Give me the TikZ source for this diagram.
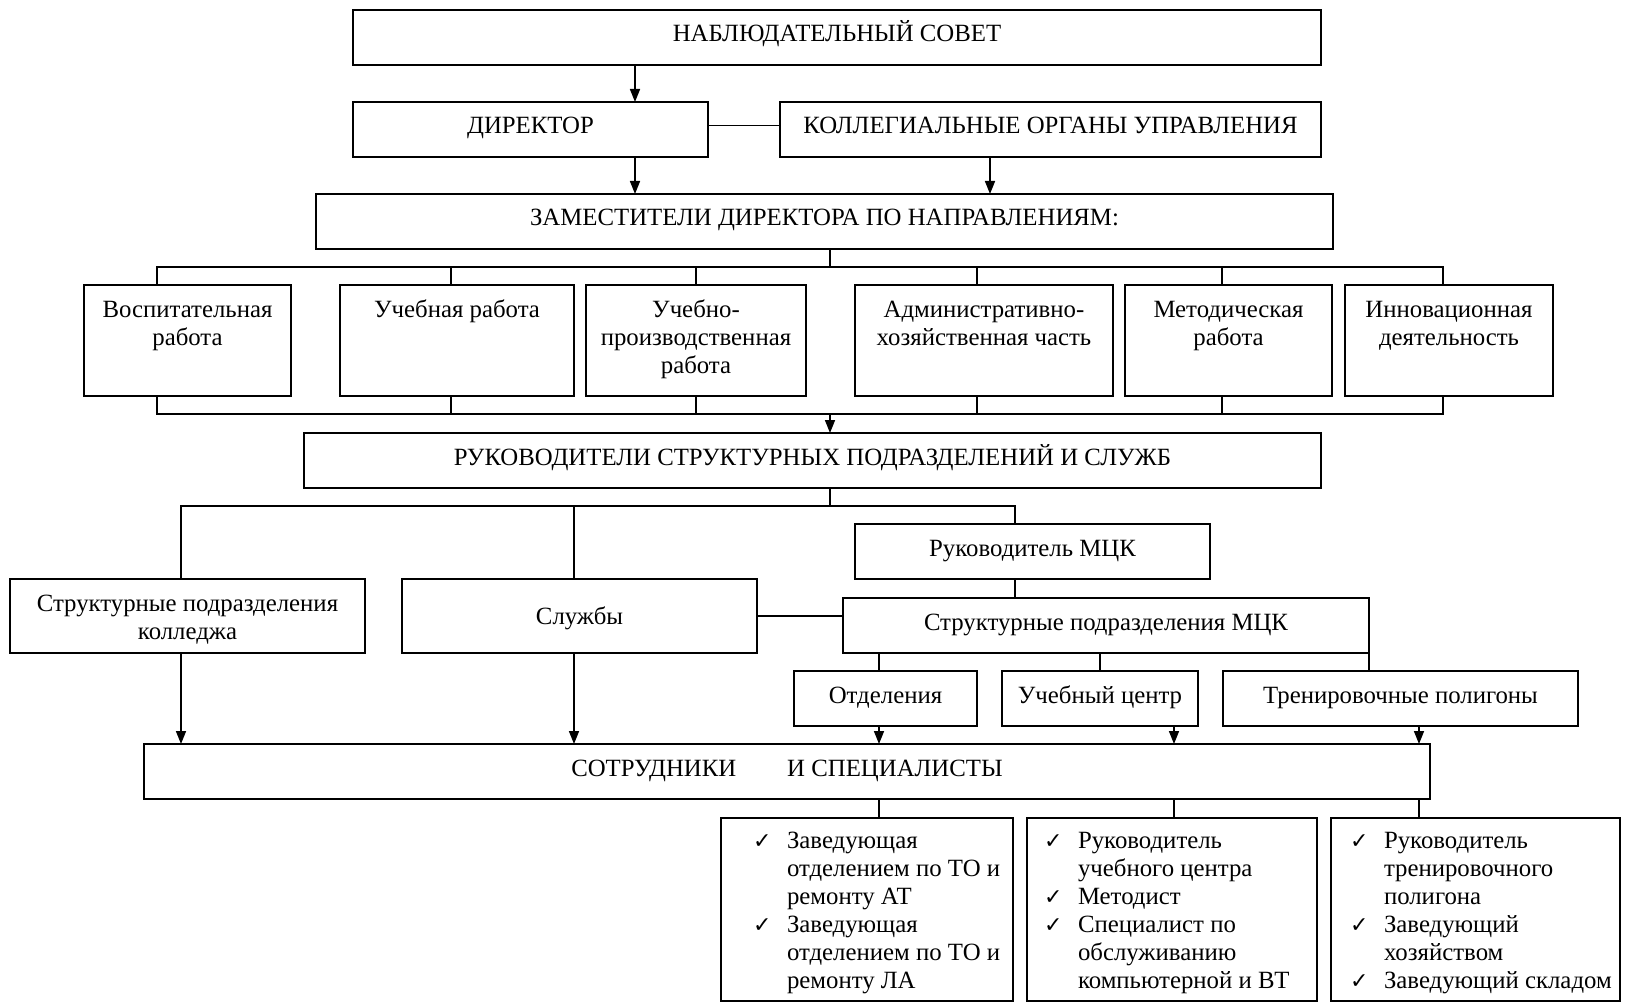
\documentclass[tikz,border=0pt]{standalone}
\usepackage{fontspec}
\setmainfont{Liberation Serif}
\newfontfamily\symfont{DejaVu Sans}
\usetikzlibrary{arrows.meta}

% centred box: [first-baseline]{name}{x1}{y1}{x2}{y2}{text}
\newcommand\mkbox[7][32]{\node[bx] (#2) at (#3,#4) {\parbox[c][\dimexpr#6pt-#4pt\relax][t]{\dimexpr#5pt-#3pt\relax}{\centering\rule{0pt}{#1pt}#7}};}
% list box: {name}{x1}{y1}{x2}{y2}{indent}{text}
\newcommand\lsbox[7]{\node[bx] (#1) at (#2,#3) {\parbox[c][\dimexpr#5pt-#3pt\relax][t]{\dimexpr#4pt-#2pt\relax}{\raggedright\leftskip=#6pt\leavevmode\rule{0pt}{30pt}#7}};}
\newcommand\chk{\leavevmode\llap{\makebox[34pt][l]{\fontsize{22}{22}\symfont ✓}}}

\begin{document}
\begin{tikzpicture}[x=1pt,y=-1pt,
  every node/.style={font=\fontsize{24.8}{28}\selectfont},
  bx/.style={draw, line width=1.6pt, inner sep=0pt, outer sep=0pt, anchor=north west},
  ln/.style={line width=1.6pt},
  arr/.style={line width=1.6pt, -{Triangle[length=13pt,width=10pt]}}]
\useasboundingbox (0,0) rectangle (1625,1003);

\mkbox{sovet}{353}{10}{1321}{65}{НАБЛЮДАТЕЛЬНЫЙ СОВЕТ}
\mkbox{dir}{353}{102}{708}{157}{ДИРЕКТОР}
\mkbox{koll}{780}{102}{1321}{157}{КОЛЛЕГИАЛЬНЫЕ ОРГАНЫ УПРАВЛЕНИЯ}
\mkbox{zam}{316}{194}{1333}{249}{ЗАМЕСТИТЕЛИ ДИРЕКТОРА ПО НАПРАВЛЕНИЯМ:}

\mkbox{vos}{84}{285}{291}{396}{Воспитательная\\работа}
\mkbox{ucheb}{340}{285}{574}{396}{Учебная работа}
\mkbox{uchpr}{586}{285}{806}{396}{Учебно-\\производственная\\работа}
\mkbox{adm}{855}{285}{1113}{396}{Административно-\\хозяйственная часть}
\mkbox{met}{1125}{285}{1332}{396}{Методическая\\работа}
\mkbox{inn}{1345}{285}{1553}{396}{Инновационная\\деятельность}

\mkbox{ruk}{304}{433}{1321}{488}{РУКОВОДИТЕЛИ СТРУКТУРНЫХ ПОДРАЗДЕЛЕНИЙ И СЛУЖБ}

\mkbox{spk}{10}{579}{365}{653}{Структурные подразделения\\колледжа}
\mkbox[45]{sluz}{402}{579}{757}{653}{Службы}
\mkbox{rmck}{855}{524}{1210}{579}{Руководитель МЦК}
\mkbox{smck}{843}{598}{1369}{653}{Структурные подразделения МЦК}
\mkbox{otd}{794}{671}{977}{726}{Отделения}
\mkbox{uc}{1002}{671}{1198}{726}{Учебный центр}
\mkbox{tren}{1223}{671}{1578}{726}{Тренировочные полигоны}

\mkbox{sotr}{144}{744}{1430}{799}{СОТРУДНИКИ\hspace{51pt}И СПЕЦИАЛИСТЫ}

\lsbox{l1}{721}{818}{1013}{1001}{66}{\chk Заведующая\\отделением по ТО и\\ремонту АТ\\\chk Заведующая\\отделением по ТО и\\ремонту ЛА}
\lsbox{l2}{1027}{818}{1317}{1001}{51}{\chk Руководитель\\учебного центра\\\chk Методист\\\chk Специалист по\\обслуживанию\\компьютерной и ВТ}
\lsbox{l3}{1331}{818}{1620}{1001}{53}{\chk Руководитель\\тренировочного\\полигона\\\chk Заведующий\\хозяйством\\\chk Заведующий складом}

% top connectors
\coordinate (cA) at (635,0);
\coordinate (cB) at (990,0);
\draw[arr] (sovet.south -| cA) -- (dir.north -| cA);
\draw[ln] ([yshift=4pt]dir.east) -- ([yshift=4pt]dir.east -| koll.west);
\draw[arr] (dir.south -| cA) -- (zam.north -| cA);
\draw[arr] (koll.south -| cB) -- (zam.north -| cB);

% buses around deputies' directions
\coordinate (tb) at (830,267);
\coordinate (bb) at (830,414);
\foreach \n/\x in {1/157,2/451,3/696,4/977,5/1222,6/1443}{
  \coordinate (t\n) at (\x,267);
  \coordinate (b\n) at (\x,414);
}
\draw[ln] (zam.south -| tb) -- (tb);
\draw[ln] (t1 |- vos.north) -- (t1) -- (t6) -- (t6 |- inn.north);
\draw[ln] (b1 |- vos.south) -- (b1) -- (b6) -- (b6 |- inn.south);
\foreach \n/\b in {2/ucheb,3/uchpr,4/adm,5/met}{
  \draw[ln] (t\n) -- (t\n |- \b.north);
  \draw[ln] (b\n) -- (b\n |- \b.south);
}
\draw[arr] (bb) -- (bb |- ruk.north);

% second level
\coordinate (s1) at (181,506);
\coordinate (s2) at (574,506);
\coordinate (s3) at (1015,506);
\draw[ln] (ruk.south -| tb) -- (tb |- s1);
\draw[ln] (s1 |- spk.north) -- (s1) -- (s3) -- (s3 |- rmck.north);
\draw[ln] (s2) -- (s2 |- sluz.north);
\draw[ln] (sluz.east) -- (sluz.east -| smck.west);
\draw[ln] (rmck.south -| s3) -- (smck.north -| s3);

% MCK subdivisions
\coordinate (u1) at (879,0);
\coordinate (u2) at (1100,0);
\coordinate (u3) at (1369,0);
\draw[ln] (smck.south -| u1) -- (otd.north -| u1);
\draw[ln] (smck.south -| u2) -- (uc.north -| u2);
\draw[ln] (smck.south -| u3) -- (tren.north -| u3);

% arrows to staff
\coordinate (a4) at (1174,0);
\coordinate (a5) at (1419,0);
\draw[arr] (spk.south -| s1) -- (sotr.north -| s1);
\draw[arr] (sluz.south -| s2) -- (sotr.north -| s2);
\draw[arr] (otd.south -| u1) -- (sotr.north -| u1);
\draw[arr] (uc.south -| a4) -- (sotr.north -| a4);
\draw[arr] (tren.south -| a5) -- (sotr.north -| a5);

% staff to lists
\draw[ln] (sotr.south -| u1) -- (l1.north -| u1);
\draw[ln] (sotr.south -| a4) -- (l2.north -| a4);
\draw[ln] (sotr.south -| a5) -- (l3.north -| a5);
\end{tikzpicture}
\end{document}
